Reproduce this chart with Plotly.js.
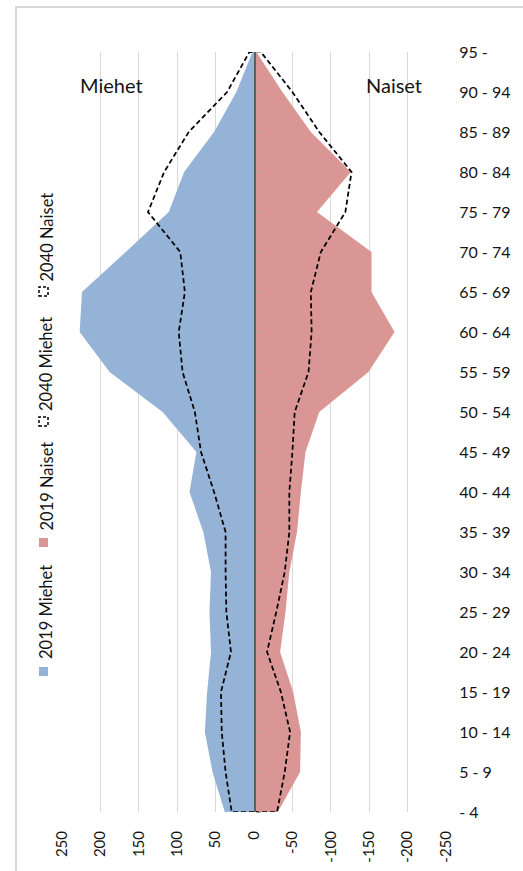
<!DOCTYPE html>
<html>
<head>
<meta charset="utf-8">
<script src="https://cdn.plot.ly/plotly-3.0.1.min.js"></script>
<style>
html,body{margin:0;padding:0;background:#fff;}
#frame{position:absolute;left:15px;top:6px;width:600px;height:900px;border:2px solid #d9d9d9;box-sizing:border-box;z-index:0;}
#chart{position:absolute;left:0;top:0;width:523px;height:871px;z-index:1;}
</style>
</head>
<body>
<div id="frame"></div>
<div id="chart"></div>
<script>
// ---- data (bottom to top) ----
const ageGroups = ['- 4','5 - 9','10 - 14','15 - 19','20 - 24','25 - 29','30 - 34','35 - 39','40 - 44','45 - 49',
                   '50 - 54','55 - 59','60 - 64','65 - 69','70 - 74','75 - 79','80 - 84','85 - 89','90 - 94','95 -'];
const men2019   = [38, 54, 64, 61, 56, 58, 56, 66, 84, 75, 119, 188, 227, 224, 167, 111, 91, 52, 23, 2];
const women2019 = [-31, -60, -61, -51, -34, -41, -46, -56, -61, -67, -85, -149, -183, -153, -153, -82, -126, -74, -37, -3];
const men2040   = [29, 37, 42, 43, 30, 36, 37, 37, 52, 69, 77, 93, 98, 90, 96, 138, 117, 85, 35, 6];
const women2040 = [-30, -40, -47, -35, -17, -29, -40, -46, -46, -50, -53, -71, -75, -74, -87, -119, -127, -85, -50, -9];
const seriesNames = ['2019 Miehet', '2019 Naiset', '2040 Miehet', '2040 Naiset'];
const sideLabels = ['Miehet', 'Naiset'];
const xTickVals = [250, 200, 150, 100, 50, 0, -50, -100, -150, -200, -250];
const xTickText = ['250', '200', '150', '100', '50', '0', '-50', '-100', '-150', '-200', '-250'];

// ---- geometry ----
const W = 523, H = 871, L = 62, R = 77, T = 52, B = 59;
const pw = W - L - R, ph = H - T - B;
const px = v => (v - L) / pw;
const py = v => (H - B - v) / ph;
const yIdx = ageGroups.map((_, i) => i);
const closeX = arr => [0].concat(arr, [0]);
const closeY = [0].concat(yIdx, [yIdx.length - 1]);

const FONT = 'Lato, "Open Sans", sans-serif';
const TXT = '#141414';
const BLUE = '#95B3D7', RED = '#DA9694';

const traces = [
  {type: 'scatter', name: seriesNames[0], x: men2019, y: yIdx, mode: 'none', fill: 'tozerox', fillcolor: BLUE, hoverinfo: 'skip'},
  {type: 'scatter', name: seriesNames[1], x: women2019, y: yIdx, mode: 'none', fill: 'tozerox', fillcolor: RED, hoverinfo: 'skip'},
  {type: 'scatter', name: seriesNames[2], x: closeX(men2040), y: closeY, mode: 'lines', yaxis: 'y2',
   line: {color: '#000', width: 1.75, dash: '5px,3px'}, hoverinfo: 'skip'},
  {type: 'scatter', name: seriesNames[3], x: closeX(women2040), y: closeY, mode: 'lines', yaxis: 'y2',
   line: {color: '#000', width: 1.75, dash: '5px,3px'}, hoverinfo: 'skip'}
];

// legend drawn manually (rotated)
const legendItems = [
  {i: 0, sq: [667, 676], textBottom: 661, dashed: false, color: BLUE},
  {i: 1, sq: [538, 547], textBottom: 533, dashed: false, color: RED},
  {i: 2, sq: [417, 426], textBottom: 413, dashed: true},
  {i: 3, sq: [287, 296], textBottom: 284, dashed: true}
];
const shapes = [];
const annotations = [];
legendItems.forEach(it => {
  shapes.push({
    type: 'rect', xref: 'paper', yref: 'paper',
    x0: px(39), x1: px(48), y0: py(it.sq[1]), y1: py(it.sq[0]),
    fillcolor: it.dashed ? '#fff' : it.color,
    line: it.dashed ? {color: '#000', width: 1.5, dash: '3px,2px'} : {width: 0}
  });
  annotations.push({
    xref: 'paper', yref: 'paper', x: px(46), y: py(it.textBottom),
    xanchor: 'center', yanchor: 'bottom', textangle: -90, showarrow: false,
    text: seriesNames[it.i], font: {family: FONT, size: 16.5, color: TXT}
  });
});
annotations.push({xref: 'paper', yref: 'paper', x: px(111), y: py(85), xanchor: 'center', yanchor: 'middle',
  showarrow: false, text: sideLabels[0], font: {family: FONT, size: 20, color: TXT}});
annotations.push({xref: 'paper', yref: 'paper', x: px(394), y: py(85), xanchor: 'center', yanchor: 'middle',
  showarrow: false, text: sideLabels[1], font: {family: FONT, size: 20, color: TXT}});

const layout = {
  width: W, height: H,
  margin: {l: L, r: R, t: T, b: B, pad: 0},
  paper_bgcolor: 'rgba(0,0,0,0)', plot_bgcolor: 'rgba(0,0,0,0)',
  showlegend: false,
  font: {family: FONT, color: TXT},
  xaxis: {
    range: [250, -250], tickmode: 'array', tickvals: xTickVals, ticktext: xTickText,
    tickangle: -90, showgrid: true, gridcolor: '#d9d9d9', gridwidth: 1, zeroline: false, showline: false,
    ticks: 'outside', ticklen: 12, tickcolor: 'rgba(0,0,0,0)',
    tickfont: {family: FONT, size: 15, color: TXT}, fixedrange: true
  },
  yaxis: {
    range: [0, yIdx.length - 1], side: 'right', tickmode: 'array', tickvals: yIdx, ticktext: ageGroups,
    showgrid: false, zeroline: false, showline: false,
    ticks: 'outside', ticklen: 9, tickcolor: 'rgba(0,0,0,0)',
    tickfont: {family: FONT, size: 16, color: TXT}, fixedrange: true
  },
  yaxis2: {
    range: [0, yIdx.length - 1], overlaying: 'y', anchor: 'free', position: 0.5, side: 'right',
    tickmode: 'array', tickvals: yIdx, showticklabels: false,
    showgrid: false, zeroline: false, showline: true, linecolor: '#5f5f5f', linewidth: 1.5,
    ticks: 'outside', ticklen: 5, tickwidth: 1, tickcolor: '#a6a6a6', fixedrange: true
  },
  shapes: shapes,
  annotations: annotations
};

Plotly.newPlot('chart', traces, layout, {displayModeBar: false, staticPlot: true});
</script>
</body>
</html>
